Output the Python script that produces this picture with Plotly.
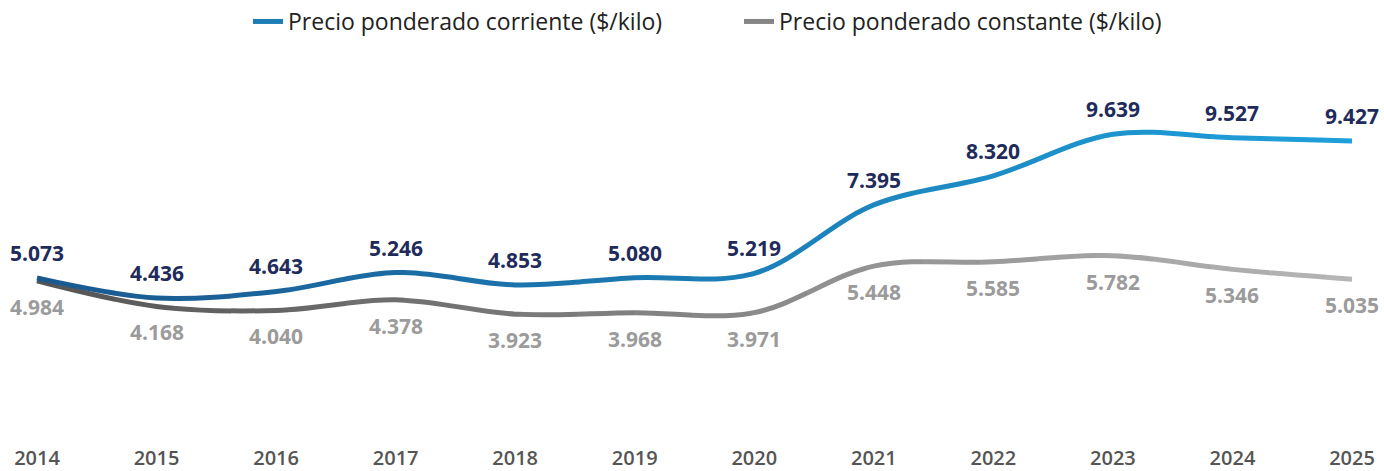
import plotly.graph_objects as go

# ---------------- data ----------------
years = [2014, 2015, 2016, 2017, 2018, 2019, 2020, 2021, 2022, 2023, 2024, 2025]
corriente = [5073, 4436, 4643, 5246, 4853, 5080, 5219, 7395, 8320, 9639, 9527, 9427]
constante = [4984, 4168, 4040, 4378, 3923, 3968, 3971, 5448, 5585, 5782, 5346, 5035]
year_labels = ["2014", "2015", "2016", "2017", "2018", "2019",
               "2020", "2021", "2022", "2023", "2024", "2025"]
name_corr = "Precio ponderado corriente ($/kilo)"
name_const = "Precio ponderado constante ($/kilo)"

# ---------------- styling ----------------
blue_start, blue_end = (26, 86, 140), (30, 162, 221)
gray_start, gray_end = (82, 82, 82), (184, 184, 184)
FONT = "Open Sans"

W, H = 1384, 471
PX_PER_YEAR = 1315 / 11
X0 = 2014 - 37 / PX_PER_YEAR
X1 = X0 + W / PX_PER_YEAR
N_SLICES = 24             # horizontal slices used to paint the colour gradient


def mix(c0, c1, t):
    return "rgb(%d,%d,%d)" % tuple(round(a + (b - a) * t) for a, b in zip(c0, c1))


def fmt(v):
    return f"{v:,}".replace(",", ".")


fig = go.Figure()

# each slice is its own subplot that clips the complete smoothed series,
# giving a left-to-right colour gradient along the lines
layout_axes = {}
for k in range(N_SLICES):
    ax = "x" + str(k + 2)
    t = (k + 0.5) / N_SLICES
    px_lo = round(k * W / N_SLICES)
    px_hi = min(W, round((k + 1) * W / N_SLICES) + 1)
    for vals, c0, c1 in ((constante, gray_start, gray_end), (corriente, blue_start, blue_end)):
        fig.add_trace(go.Scatter(
            x=years, y=vals, xaxis=ax, yaxis="y", mode="lines",
            line=dict(color=mix(c0, c1, t), width=5, shape="spline", smoothing=1.0),
            showlegend=False, hoverinfo="skip"))
    layout_axes["xaxis" + str(k + 2)] = dict(
        domain=[px_lo / W, px_hi / W],
        range=[X0 + px_lo / PX_PER_YEAR, X0 + px_hi / PX_PER_YEAR], visible=False,
        anchor="y", showgrid=False, zeroline=False, fixedrange=True)

# legend entries
fig.add_trace(go.Scatter(x=[None], y=[None], mode="lines", name=name_corr,
                         line=dict(color=mix(blue_start, blue_end, 0.5), width=5)))
fig.add_trace(go.Scatter(x=[None], y=[None], mode="lines", name=name_const,
                         line=dict(color=mix(gray_start, gray_end, 0.5), width=5)))

for x, v in zip(years, corriente):
    fig.add_annotation(x=x, y=v, xref="x", yref="y", text=fmt(v), showarrow=False, yshift=25,
                       font=dict(family=FONT, size=21, color="#1f2b5b", weight="bold"))
for x, v in zip(years, constante):
    fig.add_annotation(x=x, y=v, xref="x", yref="y", text=fmt(v), showarrow=False, yshift=-26,
                       font=dict(family=FONT, size=21, color="#9b9b9b", weight="bold"))

fig.update_layout(
    width=W, height=H,
    margin=dict(l=0, r=0, t=60, b=27, autoexpand=False),
    paper_bgcolor="white", plot_bgcolor="white",
    font=dict(family=FONT),
    showlegend=True,
    legend=dict(orientation="h", x=248 / W, xanchor="left", y=1.0, yanchor="top",
                yref="container", font=dict(size=23, color="#222222"),
                entrywidth=446, entrywidthmode="pixels", bgcolor="rgba(0,0,0,0)"),
    xaxis=dict(range=[X0, X1], tickmode="array", tickvals=years, ticktext=year_labels,
               showgrid=False, zeroline=False, showline=False, ticks="", automargin=False,
               tickfont=dict(family=FONT, size=20, color="#555555", weight=600)),
    yaxis=dict(range=[-204, 12000], visible=False, showgrid=False, zeroline=False,
               fixedrange=True),
    **layout_axes,
)

# the page's default 8px body margin would push the fixed-size figure out of the window
fig.write_html("out.html", config={"displayModeBar": False},
               post_script="document.body.style.margin = '0';")
